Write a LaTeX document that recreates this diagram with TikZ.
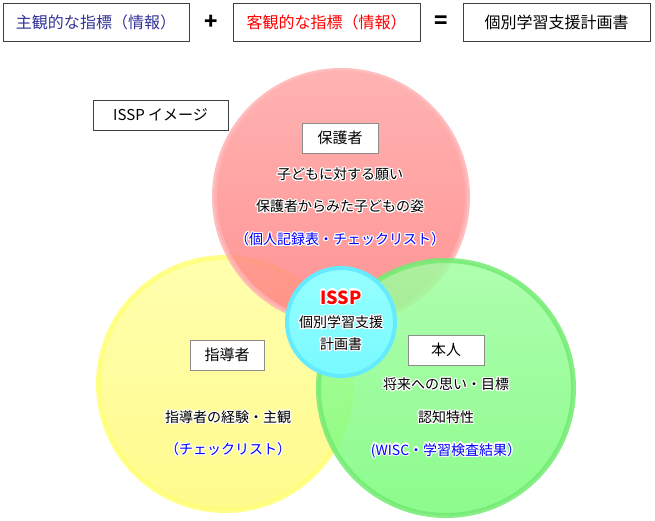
\documentclass[tikz,border=0pt]{standalone}
\usepackage{fontspec}
\setmainfont{Noto Sans CJK JP}
\usepackage{contour}
\contourlength{1.2pt}
\usetikzlibrary{positioning}
\definecolor{subjblue}{RGB}{51,51,153}
\definecolor{infoblue}{RGB}{0,0,255}
\definecolor{redtop}{RGB}{255,165,165}
\definecolor{redbot}{RGB}{255,128,128}
\definecolor{redring}{RGB}{255,178,178}
\definecolor{yeltop}{RGB}{255,255,160}
\definecolor{yelbot}{RGB}{255,250,120}
\definecolor{yelring}{RGB}{255,255,120}
\definecolor{grntop}{RGB}{160,255,160}
\definecolor{grnbot}{RGB}{120,250,120}
\definecolor{grnring}{RGB}{115,235,115}
\definecolor{cyntop}{RGB}{150,255,255}
\definecolor{cynbot}{RGB}{120,250,255}
\definecolor{cynring}{RGB}{100,235,255}

\begin{document}
\begin{tikzpicture}[x=1pt, y=-1pt,
    topbox/.style={rectangle, draw=black!75, line width=0.8pt, minimum width=186pt, minimum height=38pt, font=\fontsize{16}{18}\selectfont},
    labelbox/.style={rectangle, draw=black!45, fill=white, line width=0.8pt, minimum height=30pt, inner xsep=9pt, font=\fontsize{15}{18}\selectfont},
    ring/.style={circle, line width=5pt, fill opacity=0.85, draw opacity=0.85, inner sep=0pt},
    circtext/.style={font=\fontsize{14}{16}\selectfont},
    sign/.style={font=\fontsize{22}{22}\selectfont\bfseries}
]
\useasboundingbox (0,0) rectangle (655,521);

% Formula
\node[topbox, text=subjblue] (subj) at (96,22) {主観的な指標（情報）};
\node[sign] (plus) at (211,22) {+};
\node[topbox, text=red, minimum width=187pt] (obj) at (326.5,22) {客観的な指標（情報）};
\node[sign] (equal) at (441,22) {=};
\node[topbox, minimum width=187pt] (plan) at (556.5,22) {個別学習支援計画書};

% Circles
\node[ring, minimum size=253pt, top color=yeltop, bottom color=yelbot, draw=yelring] (yelcirc) at (225,384) {};
\node[ring, minimum size=253pt, top color=redtop, bottom color=redbot, draw=redring] (redcirc) at (341,197) {};
\node[ring, minimum size=255pt, top color=grntop, bottom color=grnbot, draw=grnring] (grncirc) at (446,388) {};
\node[ring, minimum size=108pt, line width=4pt, fill opacity=1, draw opacity=1, top color=cyntop, bottom color=cynbot, draw=cynring] (cyncirc) at (341,322) {};

% Title
\node[labelbox, draw=black!75, minimum width=135pt] (image) at (160.5,115) {ISSP イメージ};

% Guardian
\node[labelbox, minimum width=76pt] (guard) at (340,138) {保護者};
\node[circtext] (wish) at (340,175) {\contour{white}{子どもに対する願い}};
\node[circtext] (view) at (340,207) {\contour{white}{保護者からみた子どもの姿}};
\node[circtext, text=infoblue] (record) at (340,240) {\contour{white}{（個人記録表・チェックリスト）}};

% ISSP
\node[font=\fontsize{18}{20}\selectfont\bfseries, text=red] (issp) at (341,298) {\contour{white}{ISSP}};
\node[circtext] (issp1) at (341,323) {\contour{white}{個別学習支援}};
\node[circtext] (issp2) at (341,345) {\contour{white}{計画書}};

% Teacher
\node[labelbox, minimum width=74pt] (teacher) at (227,355) {指導者};
\node[circtext] (exper) at (228,418) {\contour{white}{指導者の経験・主観}};
\node[circtext, text=infoblue] (check) at (228,450) {\contour{white}{（チェックリスト）}};

% Student
\node[labelbox, minimum width=76pt] (self) at (446,350) {本人};
\node[circtext] (hope) at (446,385) {\contour{white}{将来への思い・目標}};
\node[circtext] (cogn) at (446,418) {\contour{white}{認知特性}};
\node[circtext, text=infoblue] (wisc) at (446,451) {\contour{white}{(WISC・学習検査結果）}};

\end{tikzpicture}
\end{document}
